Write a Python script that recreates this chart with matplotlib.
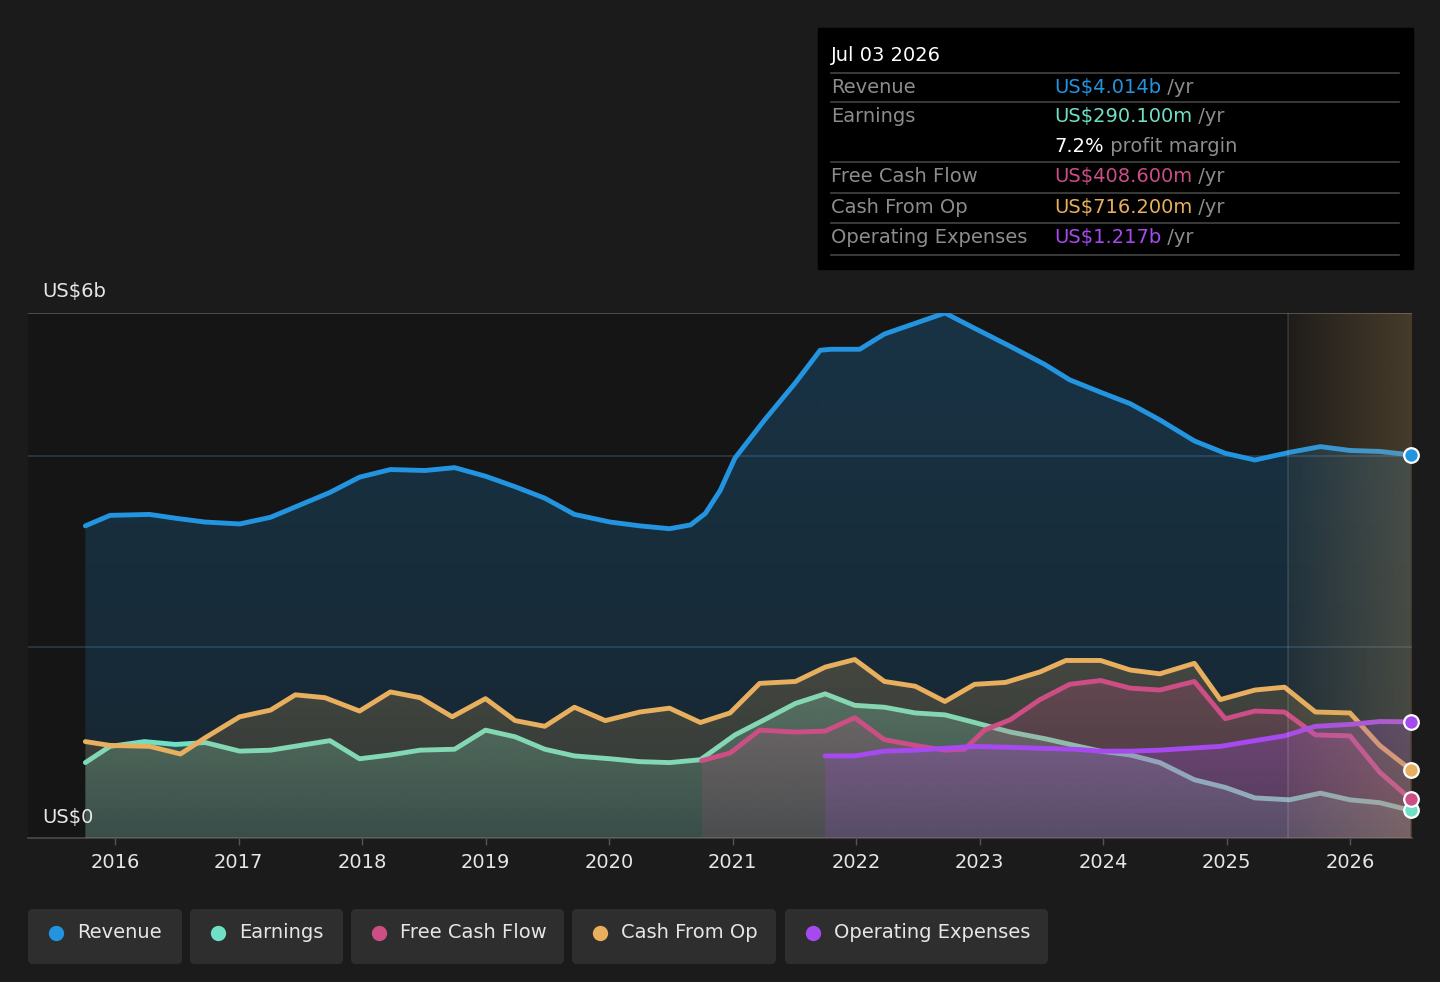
import numpy as np
import matplotlib
matplotlib.use("Agg")
import matplotlib.pyplot as plt
from matplotlib.colors import to_rgb
from matplotlib.patches import Rectangle, FancyBboxPatch

# ---- data (US$ billions, decimal years) ----
rev_t = [2015.76, 2015.96, 2016.28, 2016.49, 2016.73, 2017.01, 2017.26, 2017.50, 2017.74,
         2017.98, 2018.23, 2018.51, 2018.75, 2019.00, 2019.24, 2019.48, 2019.72, 2020.01,
         2020.25, 2020.49, 2020.66, 2020.78, 2020.90, 2021.02, 2021.26, 2021.51, 2021.71,
         2021.80, 2022.03, 2022.23, 2022.52, 2022.72, 2022.96, 2023.25, 2023.53, 2023.73,
         2023.98, 2024.22, 2024.46, 2024.74, 2024.99, 2025.23, 2025.51, 2025.76, 2026.00,
         2026.24, 2026.49]
rev_v = [3.27, 3.38, 3.39, 3.35, 3.31, 3.29, 3.36, 3.49, 3.62,
         3.78, 3.86, 3.85, 3.88, 3.79, 3.68, 3.56, 3.39, 3.31,
         3.27, 3.24, 3.28, 3.40, 3.64, 3.98, 4.38, 4.77, 5.11,
         5.12, 5.12, 5.28, 5.41, 5.50, 5.34, 5.15, 4.96, 4.80,
         4.67, 4.55, 4.38, 4.16, 4.03, 3.96, 4.04, 4.10, 4.06,
         4.05, 4.014]

earn_t = [2015.76, 2015.96, 2016.24, 2016.49, 2016.73, 2017.01, 2017.26, 2017.50, 2017.74,
          2017.98, 2018.23, 2018.47, 2018.75, 2019.00, 2019.24, 2019.48, 2019.72, 2020.01,
          2020.25, 2020.49, 2020.74, 2021.02, 2021.26, 2021.51, 2021.75, 2021.99, 2022.23,
          2022.48, 2022.72, 2022.96, 2023.25, 2023.53, 2023.77, 2023.98, 2024.22, 2024.46,
          2024.74, 2024.99, 2025.23, 2025.51, 2025.76, 2026.00, 2026.24, 2026.49]
earn_v = [0.79, 0.96, 1.01, 0.98, 1.00, 0.91, 0.92, 0.97, 1.02,
          0.83, 0.87, 0.92, 0.93, 1.13, 1.06, 0.93, 0.86, 0.83,
          0.80, 0.79, 0.82, 1.08, 1.24, 1.41, 1.51, 1.39, 1.37,
          1.31, 1.29, 1.21, 1.11, 1.04, 0.97, 0.91, 0.87, 0.79,
          0.61, 0.53, 0.42, 0.40, 0.47, 0.40, 0.37, 0.2901]

cfo_t = [2015.76, 2015.96, 2016.28, 2016.53, 2016.73, 2017.01, 2017.26, 2017.46, 2017.70,
         2017.98, 2018.23, 2018.47, 2018.73, 2019.00, 2019.24, 2019.48, 2019.72, 2019.97,
         2020.25, 2020.49, 2020.74, 2020.98, 2021.22, 2021.51, 2021.75, 2021.99, 2022.23,
         2022.48, 2022.72, 2022.96, 2023.21, 2023.49, 2023.70, 2023.98, 2024.22, 2024.46,
         2024.74, 2024.95, 2025.23, 2025.47, 2025.72, 2026.00, 2026.24, 2026.49]
cfo_v = [1.01, 0.97, 0.96, 0.88, 1.05, 1.27, 1.34, 1.50, 1.47,
         1.33, 1.53, 1.47, 1.27, 1.46, 1.23, 1.17, 1.37, 1.23,
         1.32, 1.36, 1.21, 1.31, 1.62, 1.64, 1.79, 1.87, 1.64,
         1.59, 1.43, 1.61, 1.63, 1.74, 1.86, 1.86, 1.76, 1.72,
         1.83, 1.45, 1.55, 1.58, 1.32, 1.31, 0.97, 0.7162]

fcf_t = [2020.75, 2020.98, 2021.22, 2021.51, 2021.75, 2021.99, 2022.23, 2022.48, 2022.72,
         2022.88, 2023.04, 2023.25, 2023.49, 2023.73, 2023.98, 2024.22, 2024.46, 2024.74,
         2024.99, 2025.23, 2025.47, 2025.72, 2026.00, 2026.24, 2026.49]
fcf_v = [0.81, 0.89, 1.13, 1.11, 1.12, 1.26, 1.03, 0.97, 0.92,
         0.93, 1.13, 1.24, 1.45, 1.61, 1.65, 1.57, 1.55, 1.64,
         1.25, 1.33, 1.32, 1.08, 1.07, 0.69, 0.4086]

opex_t = [2021.75, 2021.99, 2022.23, 2022.48, 2022.72, 2022.96, 2023.25, 2023.49, 2023.77,
          2023.98, 2024.22, 2024.46, 2024.70, 2024.95, 2025.23, 2025.47, 2025.72, 2026.00,
          2026.24, 2026.49]
opex_v = [0.86, 0.86, 0.91, 0.92, 0.94, 0.96, 0.95, 0.94, 0.93,
          0.91, 0.91, 0.92, 0.94, 0.96, 1.02, 1.07, 1.17, 1.19,
          1.22, 1.217]

years = list(range(2016, 2027))
forecast_start = 2025.5
series_names = ["Revenue", "Earnings", "Free Cash Flow", "Cash From Op", "Operating Expenses"]
colors = {"Revenue": "#2394df", "Earnings": "#6fe0c6", "Free Cash Flow": "#cc4e85",
          "Cash From Op": "#e8af5e", "Operating Expenses": "#a649ee"}

tip_date = "Jul 03 2026"
tip_rows = [("Revenue", "US$4.014b", " /yr"),
            ("Earnings", "US$290.100m", " /yr"),
            ("", "7.2%", " profit margin"),
            ("Free Cash Flow", "US$408.600m", " /yr"),
            ("Cash From Op", "US$716.200m", " /yr"),
            ("Operating Expenses", "US$1.217b", " /yr")]

W, H = 1440, 982
BG = "#1b1b1b"
FS = 14
fig = plt.figure(figsize=(W / 100, H / 100), dpi=100, facecolor=BG)
ax = fig.add_axes([28 / W, (H - 838) / H, (1412 - 28) / W, (838 - 313) / H])
ax.set_facecolor("#151515")
x0, x1 = 2015.2955, 2026.502
ymax = 5.5

for s in ["top", "left", "right"]:
    ax.spines[s].set_visible(False)
ax.spines["bottom"].set_color("#4a4a4a")
ax.spines["bottom"].set_linewidth(1.2)
ax.set_yticks([])
ax.set_xticks(years)
ax.set_xticklabels([str(y) for y in years], fontsize=FS)
ax.tick_params(axis="x", colors="#555555", length=5, width=1, pad=6, labelcolor="#e6e6e6")

# gridlines
ax.axhline(ymax, color="#555555", lw=1.2, zorder=1)
for g in (2, 4):
    ax.axhline(g, color="#2c3a44", lw=1.2, zorder=1.5)

series = [("Revenue", rev_t, rev_v), ("Earnings", earn_t, earn_v),
          ("Cash From Op", cfo_t, cfo_v), ("Free Cash Flow", fcf_t, fcf_v),
          ("Operating Expenses", opex_t, opex_v)]
fill_alpha = {"Revenue": (0.24, 0.14), "Earnings": (0.3, 0.15), "Cash From Op": (0.22, 0.12),
              "Free Cash Flow": (0.24, 0.12), "Operating Expenses": (0.26, 0.15)}


def gradient_fill(t, v, color, a_top, a_bot, z):
    poly = ax.fill_between(t, v, 0, facecolor="none", edgecolor="none", zorder=z)
    top = max(v)
    a = np.linspace(a_bot, a_top, 200).reshape(-1, 1)
    img = np.zeros((200, 1, 4))
    img[..., :3] = to_rgb(color)
    img[..., 3] = a
    im = ax.imshow(img, extent=[t[0], t[-1], 0, top], origin="lower", aspect="auto",
                   zorder=z, interpolation="bilinear")
    im.set_clip_path(poly.get_paths()[0], transform=ax.transData)


for i, (name, t, v) in enumerate(series):
    c = colors[name]
    a_top, a_bot = fill_alpha[name]
    gradient_fill(t, v, c, a_top, a_bot, 2 + i)
    ax.plot(t, v, color=c, lw=3.5, solid_capstyle="round", solid_joinstyle="round",
            zorder=2.5 + i)

# forecast overlay
grad = np.linspace(0, 1, 256).reshape(1, -1)
rgba = np.zeros((1, 256, 4))
rgba[..., 0] = 200 / 255
rgba[..., 1] = 160 / 255
rgba[..., 2] = 100 / 255
rgba[..., 3] = 0.06 + 0.22 * grad
ax.imshow(rgba, extent=[forecast_start, x1, 0, ymax], aspect="auto", zorder=10,
          interpolation="bilinear")
ax.axvline(forecast_start, color="white", alpha=0.12, lw=1.2, zorder=10.5)
ax.set_xlim(x0, x1)
ax.set_ylim(0, ymax)

# end markers
for name, t, v in series:
    ax.plot(t[-1], v[-1], "o", ms=10.5, mfc=colors[name], mec="white", mew=1.6,
            zorder=12, clip_on=False)

# ---- overlay in pixel coords ----
ov = fig.add_axes([0, 0, 1, 1])
ov.set_xlim(0, W)
ov.set_ylim(H, 0)
ov.axis("off")
ov.patch.set_alpha(0)

ov.text(42, 291, "US$6b", color="#e6e6e6", fontsize=FS, va="center", ha="left")
ov.text(42, 818, "US$0", color="#e6e6e6", fontsize=FS, va="center", ha="left")

# tooltip
ov.add_patch(Rectangle((818, 28), 595, 241, color="#000000", zorder=1))
ov.text(831, 55, tip_date, color="white", fontsize=FS, va="center", zorder=2)
for yl in (73, 102, 162, 193, 223, 255):
    ov.plot([831, 1399], [yl, yl], color="#444444", lw=1.2, zorder=2)
row_y = [87, 116, 146, 176, 207, 237]
fig.canvas.draw()
renderer = fig.canvas.get_renderer()
for (label, val, unit), yy in zip(tip_rows, row_y):
    if label:
        ov.text(831, yy, label, color="#8c8c8c", fontsize=FS, va="center", zorder=2)
    vc = colors.get(label, "white") if label else "white"
    tv = ov.text(1054, yy, val, color=vc, fontsize=FS, va="center", zorder=2)
    bb = tv.get_window_extent(renderer=renderer)
    ov.text(1054 + bb.width, yy, unit, color="#8c8c8c", fontsize=FS, va="center", zorder=2)

# legend buttons
buttons = [(28, 182), (190, 343), (351, 564), (572, 776), (785, 1048)]
for name, (bx0, bx1) in zip(series_names, buttons):
    ov.add_patch(FancyBboxPatch((bx0 + 5, 909 + 5), bx1 - bx0 - 10, 55 - 10,
                                boxstyle="round,pad=5", fc="#2e2e2e", ec="none", zorder=1))
    ov.plot(bx0 + 28, 933, "o", ms=10, color=colors[name], zorder=2)
    ov.text(bx0 + 49, 933, name, color="#e6e6e6", fontsize=FS, va="center", zorder=2)

fig.savefig("out.png", dpi=100, facecolor=BG)
